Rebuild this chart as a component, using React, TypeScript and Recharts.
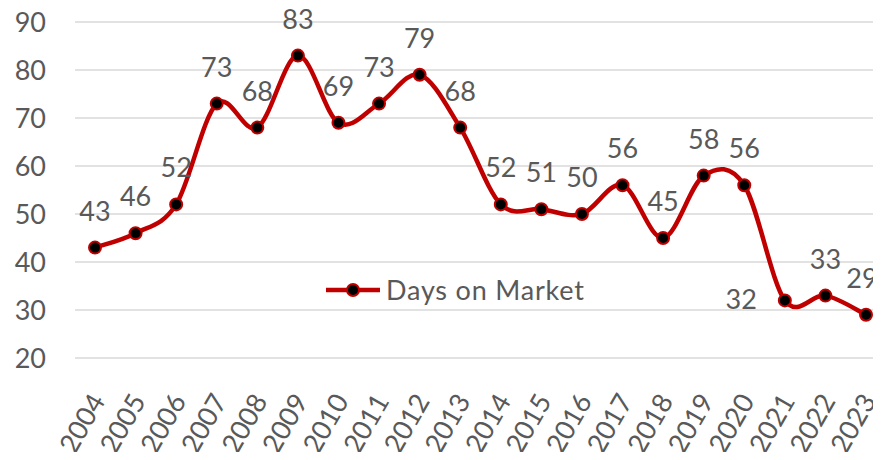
import { LineChart, Line, XAxis, YAxis, CartesianGrid, Legend, LabelList } from "recharts";

const years = ["2004", "2005", "2006", "2007", "2008", "2009", "2010", "2011", "2012", "2013", "2014", "2015", "2016", "2017", "2018", "2019", "2020", "2021", "2022", "2023"];
const daysOnMarket = [43, 46, 52, 73, 68, 83, 69, 73, 79, 68, 52, 51, 50, 56, 45, 58, 56, 32, 33, 29];
const yTicks = [20, 30, 40, 50, 60, 70, 80, 90];

const data = years.map((year, i) => ({ year, days: daysOnMarket[i] }));

const RED = "#C00000";
const TEXT = "#595959";
const FONT = "Lato, sans-serif";
const SIZE = 27;

// smooth line like Excel's: cubic segments through every point
function smoothCurve(context: any) {
    let pts: number[][] = [];
    return {
        areaStart() {},
        areaEnd() {},
        lineStart() {
            pts = [];
        },
        point(x: number, y: number) {
            pts.push([+x, +y]);
        },
        lineEnd() {
            const n = pts.length;
            if (!n) return;
            context.moveTo(pts[0][0], pts[0][1]);
            const t = 1 / 6;
            for (let i = 0; i < n - 1; i++) {
                const p0 = pts[Math.max(i - 1, 0)];
                const p1 = pts[i];
                const p2 = pts[i + 1];
                const p3 = pts[Math.min(i + 2, n - 1)];
                context.bezierCurveTo(
                    p1[0] + (p2[0] - p0[0]) * t,
                    p1[1] + (p2[1] - p0[1]) * t,
                    p2[0] - (p3[0] - p1[0]) * t,
                    p2[1] - (p3[1] - p1[1]) * t,
                    p2[0],
                    p2[1]
                );
            }
        },
    };
}

const YTick = ({ y, payload }: any) => (
    <text x={46} y={y} dy={10} textAnchor="end" fill={TEXT} fontSize={SIZE} fontFamily={FONT}>
        {payload.value}
    </text>
);

const XTick = ({ x, y, payload }: any) => {
    const ax = x + 11;
    const ay = y + 35;
    return (
        <text
            x={ax}
            y={ay}
            textAnchor="end"
            fill={TEXT}
            fontSize={SIZE}
            fontFamily={FONT}
            transform={`rotate(-60, ${ax}, ${ay})`}
        >
            {payload.value}
        </text>
    );
};

const ValueLabel = ({ x, y, value, index }: any) => {
    if (index === 17) {
        return (
            <text x={x - 28} y={y + 9} textAnchor="end" fill={TEXT} fontSize={SIZE} fontFamily={FONT}>
                {value}
            </text>
        );
    }
    const shift = index === daysOnMarket.length - 1 ? -4 : 0;
    return (
        <text x={x + shift} y={y - 27} textAnchor="middle" fill={TEXT} fontSize={SIZE} fontFamily={FONT}>
            {value}
        </text>
    );
};

const LegendContent = () => (
    <svg width={320} height={36}>
        <line x1={2} y1={17} x2={56} y2={17} stroke={RED} strokeWidth={4.5} />
        <circle cx={29} cy={17} r={6} fill="#000" stroke={RED} strokeWidth={2} />
        <text x={62} y={27} fill={TEXT} fontSize={SIZE} fontFamily={FONT} letterSpacing={0.8}>
            Days on Market
        </text>
    </svg>
);

export default function App() {
    return (
        <div style={{ margin: -8, width: 881, height: 460, overflow: "hidden", background: "#fff" }}>
            <LineChart width={886} height={460} data={data} margin={{ top: 22, right: 0, bottom: 0, left: 0 }}>
                <CartesianGrid vertical={false} stroke="#d9d9d9" strokeWidth={1.5} />
                <XAxis
                    dataKey="year"
                    axisLine={false}
                    tickLine={false}
                    height={102}
                    interval={0}
                    padding={{ left: 20, right: 20 }}
                    tick={<XTick />}
                />
                <YAxis
                    domain={[20, 90]}
                    ticks={yTicks}
                    axisLine={false}
                    tickLine={false}
                    width={75}
                    tick={<YTick />}
                />
                <Legend
                    layout="vertical"
                    verticalAlign="middle"
                    align="center"
                    content={<LegendContent />}
                    wrapperStyle={{ position: "absolute", left: 324, top: 273, width: 320 }}
                />
                <Line
                    dataKey="days"
                    name="Days on Market"
                    type={smoothCurve as any}
                    stroke={RED}
                    strokeWidth={4.5}
                    dot={{ r: 6, fill: "#000", stroke: RED, strokeWidth: 2 }}
                    activeDot={false}
                    isAnimationActive={false}
                >
                    <LabelList dataKey="days" content={<ValueLabel />} />
                </Line>
            </LineChart>
        </div>
    );
}
